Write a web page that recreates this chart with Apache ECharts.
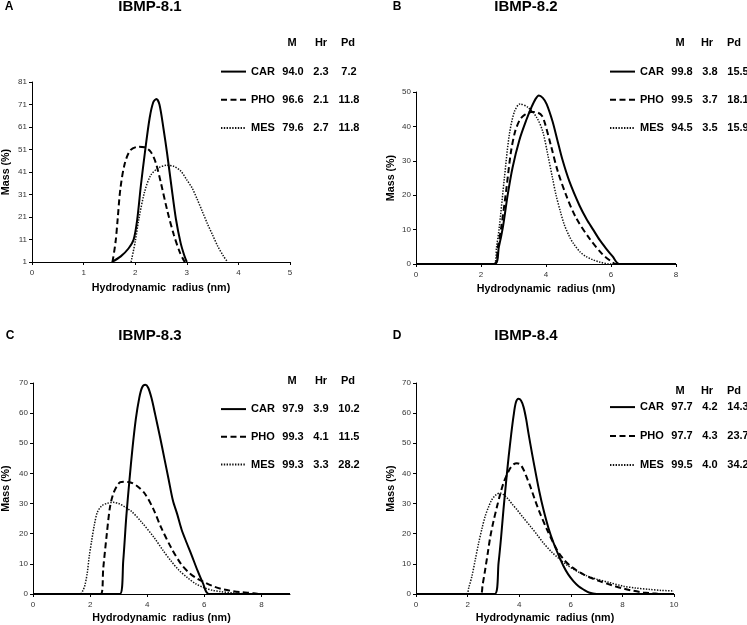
<!DOCTYPE html>
<html>
<head>
<meta charset="utf-8">
<script src="https://cdn.jsdelivr.net/npm/echarts@6/dist/echarts.min.js"></script>
<style>html,body{margin:0;padding:0;background:#fff}#c{width:747px;height:625px}</style>
</head>
<body>
<div id="c"></div>
<script>
// ---------- DATA ----------
const SERIES_NAMES = ['CAR', 'PHO', 'MES'];
const PANEL_LETTERS = ['A', 'B', 'C', 'D'];
const PANEL_TITLES = ['IBMP-8.1', 'IBMP-8.2', 'IBMP-8.3', 'IBMP-8.4'];
const HEADER = ['M', 'Hr', 'Pd'];

const A_M = ['94.0', '96.6', '79.6'], A_Hr = ['2.3', '2.1', '2.7'], A_Pd = ['7.2', '11.8', '11.8'];
const B_M = ['99.8', '99.5', '94.5'], B_Hr = ['3.8', '3.7', '3.5'], B_Pd = ['15.5', '18.1', '15.9'];
const C_M = ['97.9', '99.3', '99.3'], C_Hr = ['3.9', '4.1', '3.3'], C_Pd = ['10.2', '11.5', '28.2'];
const D_M = ['97.7', '97.7', '99.5'], D_Hr = ['4.2', '4.3', '4.0'], D_Pd = ['14.3', '23.7', '34.2'];

const A_X_TICKS = [0, 1, 2, 3, 4, 5];
const A_Y_TICKS = [1, 11, 21, 31, 41, 51, 61, 71, 81];
const B_X_TICKS = [0, 2, 4, 6, 8];
const B_Y_TICKS = [0, 10, 20, 30, 40, 50];
const C_X_TICKS = [0, 2, 4, 6, 8];
const C_Y_TICKS = [0, 10, 20, 30, 40, 50, 60, 70];
const D_X_TICKS = [0, 2, 4, 6, 8, 10];
const D_Y_TICKS = [0, 10, 20, 30, 40, 50, 60, 70];

const A_CAR = [[1.55,1],[1.72,3.5],[1.87,7],[1.97,11],[2.04,20],[2.11,35],[2.19,50],[2.28,65],[2.35,72],[2.41,73.5],[2.47,71],[2.55,60],[2.62,49],[2.7,35],[2.79,20],[2.88,9.5],[2.95,4],[3.0,1]];
const A_PHO = [[1.56,1],[1.62,10],[1.66,20],[1.71,33],[1.79,44],[1.9,50.5],[2.05,52.2],[2.18,52],[2.3,50],[2.4,45],[2.5,36],[2.62,24],[2.75,13],[2.87,5],[2.96,1]];
const A_MES = [[1.92,1],[2.0,10],[2.07,20],[2.18,32],[2.3,39.5],[2.45,42.8],[2.62,44],[2.75,43.5],[2.88,41.5],[3.0,37.5],[3.1,34],[3.2,29],[3.3,23.5],[3.4,18],[3.5,13],[3.6,8],[3.7,4],[3.79,1]];

const B_CAR = [[0,0],[2.41,0],[2.55,5],[2.67,10.5],[2.82,20],[2.97,28],[3.18,36],[3.4,42],[3.55,45.5],[3.68,48],[3.78,49],[3.9,48.3],[4.02,46.5],[4.2,41.5],[4.35,36],[4.5,30.5],[4.72,24],[5.03,17],[5.25,13],[5.45,10],[5.65,7],[5.85,4.5],[6.05,2.2],[6.26,0],[8,0]];
const B_PHO = [[0,0],[2.41,0],[2.52,5],[2.62,10.5],[2.77,21],[2.92,32.5],[3.05,38.5],[3.2,42],[3.35,43.4],[3.55,44.2],[3.75,44],[3.88,43],[3.98,40.5],[4.15,34.5],[4.36,27],[4.62,20],[4.92,13.5],[5.33,7.5],[5.74,2.8],[6.0,0.8],[6.15,0],[8,0]];
const B_MES = [[0,0],[2.4,0],[2.48,5],[2.56,10.5],[2.72,25],[2.87,37.5],[3.03,44.3],[3.2,46.5],[3.45,45.5],[3.72,42.5],[3.9,38.5],[4.05,32],[4.2,25],[4.31,20],[4.45,15],[4.56,11.5],[4.72,8],[4.87,5.6],[5.05,3.5],[5.23,2.2],[5.45,1.2],[5.64,0.6],[5.95,0],[8,0]];

const C_CAR = [[0,0],[3.04,0],[3.16,11],[3.27,26],[3.38,38],[3.48,48],[3.6,58],[3.72,65],[3.82,68.5],[3.93,69.4],[4.03,68.5],[4.15,65],[4.28,59.5],[4.45,52],[4.6,45],[4.75,38],[4.9,31],[5.05,26.5],[5.2,21.5],[5.38,17],[5.55,13],[5.76,7.8],[5.95,3.6],[6.16,0],[9,0]];
const C_PHO = [[0,0],[2.38,0],[2.46,8.5],[2.58,19.5],[2.69,28.5],[2.8,33],[2.92,35.5],[3.04,37],[3.2,37.2],[3.39,37.1],[3.62,36],[3.9,33.5],[4.2,28.5],[4.49,22],[4.83,15.5],[5.18,10],[5.45,7.2],[5.7,5.4],[6.0,3.9],[6.3,2.6],[6.6,1.7],[6.91,1.1],[7.3,0.6],[7.72,0.25],[7.9,0],[9,0]];
const C_MES = [[0,0],[1.65,0],[1.75,1.2],[1.82,3],[1.9,7],[1.97,12.5],[2.06,18],[2.15,23],[2.25,27],[2.4,29.2],[2.6,30.1],[2.81,30.4],[3.0,30],[3.2,29],[3.45,27.4],[3.79,24],[4.25,18.6],[4.55,14.5],[4.83,11],[5.1,8],[5.41,5.4],[5.7,3.4],[5.99,2.1],[6.3,1.2],[6.57,0.8],[7.0,0.35],[7.38,0.1],[7.6,0],[9,0]];

const D_CAR = [[0,0],[3.05,0],[3.2,10.3],[3.3,19],[3.39,28],[3.49,37],[3.59,45.5],[3.69,53],[3.78,59],[3.87,63.5],[3.97,64.8],[4.07,64.2],[4.17,62],[4.27,58],[4.36,53.3],[4.5,46.5],[4.62,41],[4.78,34],[4.94,28],[5.13,22],[5.33,17],[5.53,12.8],[5.72,9.2],[5.9,6.5],[6.1,4.3],[6.3,2.6],[6.49,1.5],[6.7,0.5],[7.0,0],[10,0]];
const D_PHO = [[0,0],[2.5,0],[2.58,3],[2.68,8],[2.78,13.5],[2.88,19],[3.0,24],[3.14,29],[3.26,33],[3.39,36.8],[3.52,39.5],[3.65,41.7],[3.78,43],[3.91,43.4],[4.04,43],[4.17,41.2],[4.3,38.5],[4.43,35.7],[4.6,31.5],[4.75,28],[5.07,21.5],[5.46,14.7],[5.72,11.5],[5.97,9.4],[6.23,7.8],[6.49,6.5],[6.8,5.3],[7.14,4.2],[7.6,2.9],[8.04,1.8],[8.4,1.1],[8.81,0.5],[9.2,0.2],[9.5,0],[10,0]];
const D_MES = [[0,0],[1.95,0],[2.05,2.3],[2.17,6],[2.3,11.5],[2.43,17],[2.56,21.8],[2.68,25.8],[2.81,28.8],[2.94,31.3],[3.1,32.9],[3.26,33.5],[3.42,32.8],[3.59,31.3],[3.75,29.6],[3.91,28],[4.17,25.2],[4.43,22.5],[4.7,19.6],[4.94,16.9],[5.25,14],[5.59,11.4],[5.9,9.3],[6.23,7.6],[6.6,6.1],[7.01,4.9],[7.5,3.8],[8.04,2.6],[8.5,2],[9.07,1.5],[9.5,1.2],[10,1.0]];

// ---------- LAYOUT / STYLE ----------
const FONT = 'Liberation Sans, Arial, sans-serif';
const grids = [
  {left: 32, top: 82, width: 258, height: 180},
  {left: 416, top: 92, width: 260, height: 172},
  {left: 31, top: 383, width: 259, height: 212},
  {left: 416, top: 383, width: 258, height: 212}
];
const xRanges = [[0, 5, A_X_TICKS], [0, 8, B_X_TICKS], [0, 9, C_X_TICKS], [0, 10, D_X_TICKS]];
const yRanges = [[1, 81, A_Y_TICKS], [0, 50, B_Y_TICKS], [0, 70, C_Y_TICKS], [0, 70, D_Y_TICKS]];
const yNameGap = [20, 19, 21, 19];
const xNameGap = [21, 20, 19, 19];
const panelData = [[A_CAR, A_PHO, A_MES], [B_CAR, B_PHO, B_MES], [C_CAR, C_PHO, C_MES], [D_CAR, D_PHO, D_MES]];
const tableVals = [[A_M, A_Hr, A_Pd], [B_M, B_Hr, B_Pd], [C_M, C_Hr, C_Pd], [D_M, D_Hr, D_Pd]];
const legendPos = [
  {left: 220, top: 66, gap: 17},
  {left: 609, top: 66, gap: 17},
  {left: 220, top: 403.5, gap: 16.5},
  {left: 609, top: 401.5, gap: 17.7}
];
const headerPos = [
  {xs: [292, 321, 348], y: 43},
  {xs: [680, 707, 734], y: 43},
  {xs: [292, 321, 348], y: 381},
  {xs: [680, 707, 734], y: 391}
];
const titlePos = [
  {lx: 9, ty: 7, tx: 150},
  {lx: 397, ty: 7, tx: 526},
  {lx: 10, ty: 336, tx: 150},
  {lx: 397, ty: 336, tx: 526}
];
const lineStyles = [
  {color: '#000', width: 2, type: 'solid'},
  {color: '#000', width: 2, type: [6, 3.5]},
  {color: '#111', width: 1.5, type: [1.4, 1.4]}
];

const xAxis = [], yAxis = [], series = [], legend = [], graphic = [];
for (let p = 0; p < 4; p++) {
  xAxis.push({
    type: 'value', gridIndex: p, min: xRanges[p][0], max: xRanges[p][1],
    name: 'Hydrodynamic  radius (nm)', nameLocation: 'middle', nameGap: xNameGap[p],
    nameTextStyle: {fontFamily: FONT, fontWeight: 'bold', fontSize: 10.7, color: '#000'},
    axisLine: {show: true, lineStyle: {color: '#000', width: 1}},
    axisTick: {show: true, length: 3, customValues: xRanges[p][2], lineStyle: {color: '#000'}},
    axisLabel: {customValues: xRanges[p][2], fontFamily: FONT, fontSize: 8, color: '#333', margin: 7},
    splitLine: {show: false}
  });
  yAxis.push({
    type: 'value', gridIndex: p, min: yRanges[p][0], max: yRanges[p][1],
    name: 'Mass (%)', nameLocation: 'middle', nameGap: yNameGap[p], nameRotate: 90,
    nameTextStyle: {fontFamily: FONT, fontWeight: 'bold', fontSize: 10.7, color: '#000'},
    axisLine: {show: true, lineStyle: {color: '#000', width: 1}},
    axisTick: {show: true, length: 3, customValues: yRanges[p][2], lineStyle: {color: '#000'}},
    axisLabel: {customValues: yRanges[p][2], fontFamily: FONT, fontSize: 8, color: '#333', margin: 5},
    splitLine: {show: false}
  });
  for (let s = 0; s < 3; s++) {
    series.push({
      type: 'line', name: SERIES_NAMES[s], xAxisIndex: p, yAxisIndex: p,
      data: panelData[p][s], showSymbol: false, symbol: 'none', smooth: 0.3,
      color: lineStyles[s].color, itemStyle: {color: lineStyles[s].color},
      lineStyle: Object.assign({}, lineStyles[s]), z: 3 - s
    });
  }
  const vals = tableVals[p];
  legend.push({
    data: SERIES_NAMES, orient: 'vertical', left: legendPos[p].left, top: legendPos[p].top,
    padding: 0, itemWidth: 25, itemHeight: 14, itemGap: legendPos[p].gap, selectedMode: false,
    itemStyle: {opacity: 0, borderWidth: 0, color: 'transparent'},
    formatter: function (name) {
      const i = SERIES_NAMES.indexOf(name);
      return '{n|' + name + '}{v|' + vals[0][i] + '}{v|' + vals[1][i] + '}{v|' + vals[2][i] + '}';
    },
    textStyle: {
      fontFamily: FONT, fontWeight: 'bold', fontSize: 11, color: '#000', overflow: 'none',
      rich: {
        n: {width: 28, fontFamily: FONT, fontWeight: 'bold', fontSize: 11, color: '#000'},
        v: {width: 28, align: 'center', fontFamily: FONT, fontWeight: 'bold', fontSize: 11, color: '#000'}
      }
    }
  });
  for (let h = 0; h < 3; h++) {
    graphic.push({
      type: 'text', x: headerPos[p].xs[h], y: headerPos[p].y,
      style: {text: HEADER[h], font: 'bold 11px ' + FONT, fill: '#000',
        textAlign: 'center', textVerticalAlign: 'middle', align: 'center', verticalAlign: 'middle'}
    });
  }
  graphic.push({
    type: 'text', x: titlePos[p].lx, y: titlePos[p].ty,
    style: {text: PANEL_LETTERS[p], font: 'bold 12px ' + FONT, fill: '#000',
      textAlign: 'center', textVerticalAlign: 'middle', align: 'center', verticalAlign: 'middle'}
  });
  graphic.push({
    type: 'text', x: titlePos[p].tx, y: titlePos[p].ty,
    style: {text: PANEL_TITLES[p], font: 'bold 15px ' + FONT, fill: '#000',
      textAlign: 'center', textVerticalAlign: 'middle', align: 'center', verticalAlign: 'middle'}
  });
}

const chart = echarts.init(document.getElementById('c'), null, {renderer: 'canvas'});
chart.setOption({
  animation: false,
  backgroundColor: '#fff',
  textStyle: {fontFamily: FONT},
  grid: grids,
  xAxis: xAxis,
  yAxis: yAxis,
  legend: legend,
  graphic: graphic,
  series: series
});
</script>
</body>
</html>
